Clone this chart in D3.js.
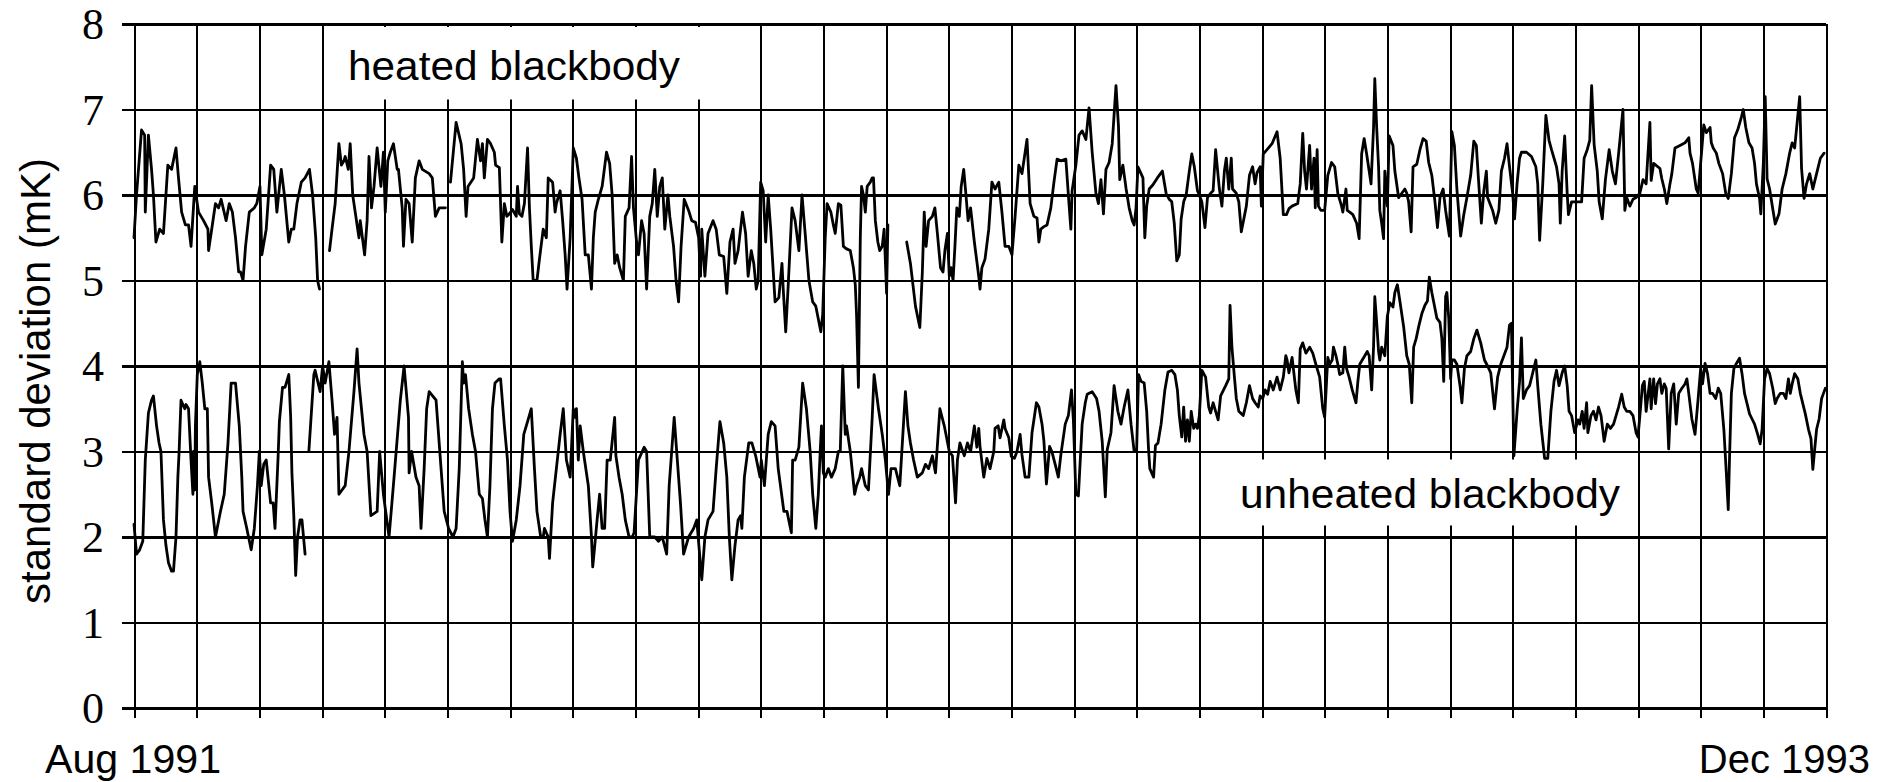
<!DOCTYPE html>
<html>
<head>
<meta charset="utf-8">
<script src="https://cdn.jsdelivr.net/npm/d3@7/dist/d3.min.js"></script>
<style>
  html, body { margin: 0; padding: 0; background: #fff; }
  svg { display: block; }
</style>
</head>
<body>
<svg id="chart" width="1880" height="782"></svg>
<script>
//#region DATA
// x = months since Aug 1991 (one grid line per month), y = standard deviation in mK
var monthTicks = d3.range(0, 28);
var yTicks = [0, 1, 2, 3, 4, 5, 6, 7, 8];
var xLabels = ["Aug 1991", "Dec 1993"];
var seriesNames = ["heated blackbody", "unheated blackbody"];
var yTitle = "standard deviation (mK)";

// null = gap in the record
var heated = [
[0.00,5.5],[0.04,6.0],[0.12,6.76],[0.17,6.7],[0.18,5.8],[0.23,6.7],[0.28,6.3],[0.31,6.0],[0.35,5.45],[0.41,5.6],
[0.47,5.55],[0.54,6.35],[0.60,6.3],[0.67,6.55],[0.71,6.2],[0.76,5.8],[0.82,5.65],[0.87,5.65],[0.91,5.4],[0.97,6.1],
[1.03,5.8],[1.11,5.7],[1.18,5.6],[1.19,5.35],[1.25,5.65],[1.30,5.9],[1.35,5.85],[1.39,5.95],[1.47,5.7],[1.52,5.9],
[1.57,5.8],[1.62,5.5],[1.67,5.1],[1.70,5.1],[1.74,5.0],[1.78,5.4],[1.84,5.8],[1.92,5.85],[1.96,5.9],[2.01,6.1],
[2.04,5.3],[2.11,5.6],[2.18,6.35],[2.23,6.3],[2.28,5.8],[2.35,6.3],[2.40,6.0],[2.47,5.45],[2.51,5.6],[2.55,5.6],
[2.60,5.9],[2.67,6.15],[2.73,6.2],[2.80,6.3],[2.85,6.0],[2.90,5.5],[2.93,5.0],[2.96,4.9],[3.04,null],[3.12,5.35],
[3.16,5.6],[3.21,5.9],[3.27,6.6],[3.31,6.35],[3.35,6.4],[3.37,6.45],[3.42,6.3],[3.45,6.6],[3.49,6.0],[3.53,5.8],
[3.59,5.5],[3.61,5.7],[3.68,5.3],[3.72,5.7],[3.75,6.45],[3.79,5.85],[3.83,6.1],[3.88,6.55],[3.94,6.1],[3.98,6.5],
[4.01,5.8],[4.05,6.4],[4.09,6.5],[4.14,6.6],[4.20,6.3],[4.22,6.3],[4.28,5.85],[4.30,5.4],[4.34,5.95],[4.39,5.9],
[4.44,5.45],[4.49,6.2],[4.55,6.4],[4.60,6.3],[4.71,6.25],[4.76,6.2],[4.81,5.75],[4.87,5.85],[4.97,5.85],[5.01,null],
[5.05,6.15],[5.14,6.85],[5.22,6.6],[5.26,6.3],[5.30,5.75],[5.33,6.1],[5.42,6.2],[5.48,6.65],[5.53,6.4],[5.56,6.6],
[5.59,6.2],[5.64,6.65],[5.69,6.6],[5.75,6.5],[5.77,6.35],[5.83,6.32],[5.87,5.45],[5.91,5.9],[5.95,5.75],[5.99,5.78],
[6.04,5.83],[6.10,5.75],[6.12,6.1],[6.15,5.78],[6.19,5.75],[6.23,5.9],[6.28,6.55],[6.31,5.85],[6.34,5.4],[6.37,5.0],
[6.43,5.0],[6.47,5.25],[6.53,5.6],[6.58,5.5],[6.61,6.2],[6.68,6.15],[6.72,5.8],[6.74,5.9],[6.80,6.05],[6.84,5.7],
[6.88,5.3],[6.91,4.9],[6.96,5.5],[7.01,6.55],[7.06,6.43],[7.10,6.2],[7.15,5.95],[7.20,5.3],[7.25,5.3],[7.30,4.9],
[7.33,5.5],[7.36,5.8],[7.41,5.95],[7.47,6.1],[7.54,6.5],[7.59,6.37],[7.63,6.0],[7.67,5.2],[7.71,5.3],[7.75,5.15],
[7.81,5.0],[7.84,5.75],[7.90,5.85],[7.94,6.45],[7.97,5.85],[8.02,5.45],[8.05,5.3],[8.10,5.7],[8.14,5.55],[8.18,4.9],
[8.23,5.75],[8.27,5.9],[8.31,6.3],[8.35,5.75],[8.39,6.1],[8.43,6.2],[8.47,5.6],[8.52,6.0],[8.55,5.75],[8.61,5.4],
[8.65,5.0],[8.69,4.75],[8.73,5.4],[8.78,5.95],[8.85,5.82],[8.90,5.7],[8.96,5.68],[9.01,5.5],[9.04,5.05],[9.06,5.6],
[9.11,5.05],[9.16,5.55],[9.24,5.7],[9.29,5.6],[9.34,5.3],[9.41,5.28],[9.46,4.85],[9.51,5.45],[9.56,5.6],[9.59,5.2],
[9.64,5.35],[9.71,5.8],[9.76,5.55],[9.80,5.05],[9.85,5.35],[9.89,5.2],[9.93,4.9],[9.96,5.0],[10.00,6.15],[10.04,6.05],
[10.08,5.45],[10.12,6.0],[10.16,5.6],[10.23,4.75],[10.29,4.8],[10.34,5.2],[10.36,4.9],[10.40,4.4],[10.44,4.95],[10.50,5.85],
[10.55,5.7],[10.61,5.35],[10.66,6.0],[10.71,5.55],[10.77,5.0],[10.83,4.75],[10.88,4.7],[10.92,4.55],[10.96,4.4],[10.99,4.6],
[11.03,5.5],[11.06,5.9],[11.12,5.8],[11.16,5.65],[11.19,5.55],[11.24,5.9],[11.28,5.88],[11.32,5.4],[11.37,5.37],[11.43,5.35],
[11.48,5.15],[11.51,4.95],[11.53,4.6],[11.56,3.75],[11.59,5.5],[11.61,6.1],[11.64,6.0],[11.67,5.8],[11.70,6.1],[11.75,6.15],
[11.78,6.2],[11.80,6.2],[11.83,5.7],[11.87,5.45],[11.90,5.35],[11.94,5.4],[11.97,5.6],[12.01,4.85],[12.03,5.65],[12.18,null],
[12.33,5.45],[12.39,5.2],[12.47,4.7],[12.54,4.45],[12.58,5.1],[12.61,5.8],[12.64,5.4],[12.68,5.7],[12.74,5.75],[12.78,5.85],
[12.82,5.55],[12.87,5.15],[12.91,5.1],[12.94,5.35],[12.98,5.55],[13.01,5.05],[13.04,5.15],[13.07,5.0],[13.10,5.4],[13.13,5.85],
[13.17,5.75],[13.20,6.1],[13.24,6.3],[13.27,6.05],[13.31,5.7],[13.35,5.85],[13.41,5.45],[13.48,5.05],[13.50,4.9],[13.53,5.15],
[13.58,5.25],[13.64,5.6],[13.69,6.15],[13.74,6.07],[13.80,6.15],[13.85,5.8],[13.90,5.4],[13.96,5.4],[14.01,5.3],[14.06,5.75],
[14.12,6.35],[14.17,6.25],[14.25,6.65],[14.30,5.9],[14.36,5.75],[14.41,5.73],[14.44,5.45],[14.47,5.6],[14.52,5.63],[14.57,5.65],
[14.63,5.85],[14.68,6.15],[14.73,6.42],[14.79,6.4],[14.87,6.42],[14.92,5.9],[14.95,5.6],[14.97,6.05],[15.03,6.35],[15.08,6.7],
[15.13,6.75],[15.19,6.65],[15.24,7.02],[15.29,6.5],[15.35,6.02],[15.39,5.9],[15.43,6.18],[15.47,5.78],[15.51,6.3],[15.56,6.38],
[15.61,6.6],[15.67,7.28],[15.71,6.8],[15.73,6.18],[15.78,6.35],[15.83,6.08],[15.88,5.85],[15.93,5.7],[15.96,5.65],[15.99,5.85],
[16.02,6.33],[16.07,6.25],[16.10,6.2],[16.13,5.5],[16.16,5.87],[16.20,6.07],[16.26,6.12],[16.33,6.2],[16.41,6.28],[16.47,6.02],
[16.52,5.95],[16.56,5.92],[16.60,5.67],[16.64,5.23],[16.68,5.3],[16.71,5.72],[16.75,5.92],[16.79,6.0],[16.84,6.28],[16.88,6.48],
[16.92,6.33],[16.97,6.05],[17.00,6.0],[17.04,5.92],[17.09,5.62],[17.13,5.97],[17.18,6.02],[17.22,6.05],[17.26,6.53],[17.32,6.07],
[17.36,5.87],[17.40,6.28],[17.43,6.43],[17.47,6.07],[17.51,6.43],[17.53,6.07],[17.59,6.02],[17.63,5.92],[17.67,5.57],[17.71,5.72],
[17.75,5.87],[17.80,6.23],[17.85,6.33],[17.89,6.13],[17.92,6.26],[17.97,6.33],[17.99,5.87],[18.02,6.48],[18.08,6.53],[18.16,6.6],
[18.24,6.74],[18.29,6.43],[18.34,5.77],[18.39,5.77],[18.43,5.84],[18.48,5.87],[18.57,5.9],[18.61,6.13],[18.65,6.72],[18.68,6.28],
[18.71,6.07],[18.76,6.58],[18.79,6.07],[18.83,6.43],[18.85,5.85],[18.88,6.53],[18.90,5.87],[18.94,5.82],[19.00,5.82],[19.05,6.23],
[19.11,6.38],[19.16,6.33],[19.21,6.02],[19.27,5.87],[19.29,5.8],[19.34,6.07],[19.36,5.82],[19.40,5.8],[19.45,5.77],[19.51,5.67],
[19.55,5.49],[19.59,6.48],[19.63,6.66],[19.67,6.48],[19.71,6.28],[19.74,6.13],[19.78,6.79],[19.80,7.36],[19.83,6.79],[19.86,6.33],
[19.88,5.82],[19.91,5.67],[19.94,5.49],[19.96,6.28],[20.00,5.87],[20.03,6.69],[20.09,6.58],[20.12,6.28],[20.18,5.97],[20.21,6.0],
[20.28,6.07],[20.31,6.02],[20.34,5.92],[20.38,5.57],[20.41,6.33],[20.47,6.36],[20.52,6.53],[20.57,6.66],[20.62,6.63],[20.66,6.38],
[20.71,6.23],[20.76,5.92],[20.80,5.62],[20.84,5.97],[20.89,6.07],[20.93,5.82],[20.95,5.72],[20.99,5.52],[21.03,6.74],[21.07,6.58],
[21.11,6.07],[21.17,5.52],[21.22,5.77],[21.27,5.97],[21.33,6.23],[21.38,6.63],[21.42,6.58],[21.46,6.12],[21.50,5.67],[21.54,6.05],
[21.58,6.28],[21.60,5.97],[21.68,5.82],[21.73,5.67],[21.78,5.82],[21.82,6.28],[21.87,6.43],[21.91,6.6],[21.95,6.33],[22.00,6.02],
[22.03,5.72],[22.07,6.13],[22.11,6.43],[22.14,6.5],[22.22,6.5],[22.30,6.45],[22.37,6.33],[22.40,6.13],[22.43,5.47],[22.48,6.13],
[22.53,6.93],[22.58,6.64],[22.62,6.53],[22.66,6.43],[22.70,6.33],[22.74,6.13],[22.76,5.67],[22.79,6.28],[22.83,6.69],[22.87,6.02],
[22.89,5.77],[22.94,5.92],[22.99,5.92],[23.10,5.92],[23.14,6.43],[23.19,6.53],[23.23,6.64],[23.26,7.28],[23.30,6.59],[23.35,6.28],
[23.38,5.92],[23.43,5.72],[23.48,6.18],[23.54,6.53],[23.59,6.28],[23.64,6.13],[23.69,6.48],[23.76,7.0],[23.79,5.82],[23.82,5.97],
[23.87,5.87],[23.92,5.95],[23.97,5.97],[24.03,6.02],[24.08,6.18],[24.13,6.13],[24.19,6.85],[24.21,6.17],[24.25,6.37],[24.35,6.31],
[24.38,6.19],[24.42,6.07],[24.46,5.9],[24.51,6.13],[24.54,6.25],[24.59,6.55],[24.67,6.58],[24.75,6.61],[24.81,6.67],[24.83,6.49],
[24.87,6.37],[24.93,6.07],[24.96,6.02],[25.02,6.55],[25.05,6.82],[25.09,6.73],[25.15,6.79],[25.17,6.61],[25.20,6.55],[25.25,6.49],
[25.29,6.37],[25.35,6.25],[25.40,6.02],[25.44,5.96],[25.49,6.25],[25.54,6.67],[25.59,6.76],[25.65,6.91],[25.68,7.0],[25.72,6.79],
[25.77,6.61],[25.82,6.55],[25.86,6.37],[25.89,6.13],[25.94,5.96],[25.96,5.78],[26.00,6.37],[26.03,7.15],[26.06,6.19],[26.10,6.07],
[26.15,5.84],[26.19,5.66],[26.25,5.78],[26.30,6.07],[26.36,6.25],[26.42,6.49],[26.46,6.61],[26.50,6.55],[26.54,6.85],[26.58,7.15],
[26.61,6.31],[26.65,5.96],[26.69,6.13],[26.74,6.25],[26.79,6.07],[26.85,6.25],[26.91,6.43],[26.97,6.49]
];

var unheated = [
[0.00,2.15],[0.04,1.8],[0.09,1.85],[0.14,1.95],[0.18,2.9],[0.23,3.45],[0.28,3.6],[0.31,3.65],[0.36,3.3],[0.40,3.1],
[0.43,3.0],[0.47,2.2],[0.51,1.9],[0.55,1.7],[0.60,1.6],[0.63,1.6],[0.67,2.0],[0.70,2.7],[0.72,3.0],[0.75,3.6],
[0.81,3.5],[0.83,3.55],[0.87,3.5],[0.91,2.9],[0.94,2.5],[0.95,3.0],[0.97,2.55],[0.98,3.3],[1.01,3.9],[1.05,4.05],
[1.09,3.8],[1.13,3.5],[1.17,3.5],[1.19,2.7],[1.24,2.4],[1.30,2.0],[1.38,2.3],[1.44,2.5],[1.50,3.1],[1.55,3.8],
[1.62,3.8],[1.68,3.3],[1.72,2.7],[1.74,2.3],[1.80,2.1],[1.87,1.85],[1.92,2.1],[1.97,2.6],[2.00,3.0],[2.03,2.6],
[2.07,2.85],[2.11,2.9],[2.18,2.4],[2.22,2.4],[2.25,2.1],[2.30,2.95],[2.32,3.35],[2.37,3.75],[2.41,3.75],[2.47,3.9],
[2.50,3.4],[2.52,2.75],[2.55,2.25],[2.58,1.55],[2.61,2.0],[2.65,2.2],[2.68,2.2],[2.73,1.8],[2.76,null],[2.79,3.0],
[2.87,3.9],[2.89,3.95],[2.97,3.7],[3.01,4.0],[3.05,3.8],[3.11,4.05],[3.16,3.6],[3.20,3.2],[3.24,3.4],[3.27,2.5],
[3.32,2.55],[3.37,2.6],[3.43,3.0],[3.51,3.7],[3.56,4.2],[3.59,3.8],[3.67,3.2],[3.72,3.0],[3.78,2.25],[3.88,2.3],
[3.92,3.0],[3.98,2.5],[4.07,2.0],[4.15,2.7],[4.25,3.6],[4.31,4.0],[4.38,3.4],[4.39,2.75],[4.43,3.0],[4.50,2.7],
[4.55,2.6],[4.58,2.1],[4.63,2.8],[4.67,3.5],[4.71,3.7],[4.82,3.6],[4.90,2.8],[4.95,2.3],[5.02,2.1],[5.09,2.0],
[5.14,2.1],[5.19,2.8],[5.24,4.05],[5.26,3.8],[5.29,3.9],[5.34,3.5],[5.40,3.2],[5.45,3.0],[5.51,2.5],[5.56,2.45],
[5.60,2.2],[5.64,2.0],[5.68,2.6],[5.72,3.5],[5.76,3.8],[5.83,3.85],[5.85,3.85],[5.91,3.3],[5.96,2.9],[6.00,2.3],
[6.04,1.95],[6.10,2.2],[6.16,2.6],[6.22,3.2],[6.26,3.3],[6.28,3.35],[6.34,3.5],[6.39,2.8],[6.43,2.3],[6.49,2.0],
[6.53,2.0],[6.55,2.1],[6.61,2.0],[6.63,1.75],[6.68,2.4],[6.74,2.8],[6.80,3.2],[6.85,3.5],[6.90,2.9],[6.96,2.7],
[7.01,3.5],[7.04,3.4],[7.06,3.5],[7.09,2.9],[7.12,3.3],[7.17,3.0],[7.25,2.6],[7.30,2.0],[7.32,1.65],[7.34,1.8],
[7.39,2.2],[7.43,2.5],[7.47,2.1],[7.51,2.1],[7.55,2.9],[7.60,2.9],[7.67,3.4],[7.69,2.95],[7.74,2.7],[7.79,2.5],
[7.84,2.2],[7.90,2.0],[7.95,2.0],[7.98,2.05],[8.05,2.9],[8.14,3.05],[8.18,3.0],[8.23,2.0],[8.31,2.0],[8.37,1.95],
[8.43,2.0],[8.50,1.8],[8.54,2.6],[8.58,3.0],[8.62,3.4],[8.72,2.4],[8.77,1.8],[8.85,2.0],[8.93,2.1],[8.98,2.2],
[9.06,1.5],[9.11,2.0],[9.16,2.2],[9.24,2.3],[9.29,2.8],[9.35,3.35],[9.41,3.1],[9.46,2.7],[9.50,2.0],[9.54,1.5],
[9.59,1.9],[9.64,2.2],[9.68,2.25],[9.70,2.1],[9.74,2.7],[9.81,3.1],[9.86,3.1],[9.92,2.95],[9.99,2.7],[10.01,2.9],
[10.06,2.6],[10.12,3.2],[10.17,3.35],[10.23,3.3],[10.28,2.8],[10.37,2.3],[10.42,2.3],[10.49,2.05],[10.51,2.9],[10.55,2.9],
[10.61,3.05],[10.67,3.8],[10.73,3.5],[10.79,3.0],[10.83,2.5],[10.88,2.1],[10.92,2.5],[10.95,3.0],[10.97,3.3],[11.00,2.75],
[11.03,2.7],[11.08,2.8],[11.13,2.7],[11.19,2.8],[11.24,3.0],[11.27,3.0],[11.31,4.0],[11.35,3.2],[11.37,3.3],[11.43,3.0],
[11.50,2.5],[11.53,2.6],[11.58,2.7],[11.61,2.8],[11.67,2.6],[11.72,2.55],[11.78,3.4],[11.81,3.9],[11.88,3.5],[11.94,3.2],
[11.99,2.9],[12.04,2.5],[12.08,2.8],[12.15,2.8],[12.22,2.6],[12.31,3.7],[12.35,3.3],[12.39,3.1],[12.44,2.9],[12.50,2.7],
[12.58,2.75],[12.63,2.85],[12.68,2.8],[12.74,2.95],[12.79,2.75],[12.86,3.5],[12.93,3.3],[13.01,3.0],[13.06,2.95],[13.11,2.4],
[13.14,2.9],[13.18,3.1],[13.25,2.95],[13.30,3.1],[13.35,3.0],[13.41,3.3],[13.45,3.05],[13.48,3.27],[13.50,3.06],[13.56,2.7],
[13.61,2.92],[13.66,2.8],[13.72,3.0],[13.74,3.27],[13.79,3.3],[13.82,3.16],[13.88,3.37],[13.90,3.27],[13.96,3.16],[14.00,2.94],
[14.05,2.92],[14.09,3.0],[14.14,3.2],[14.17,2.96],[14.22,2.7],[14.28,2.7],[14.33,3.22],[14.40,3.57],[14.44,3.52],[14.49,3.32],
[14.52,3.12],[14.56,2.62],[14.61,3.06],[14.65,2.99],[14.71,2.82],[14.75,2.7],[14.79,2.96],[14.86,3.32],[14.91,3.42],[14.96,3.72],
[14.99,3.37],[15.03,2.5],[15.07,2.48],[15.13,3.32],[15.18,3.57],[15.21,3.67],[15.29,3.7],[15.36,3.62],[15.40,3.47],[15.45,3.12],
[15.50,2.47],[15.53,3.02],[15.59,3.22],[15.64,3.77],[15.70,3.47],[15.75,3.32],[15.80,3.52],[15.86,3.72],[15.91,3.32],[15.96,3.0],
[16.00,3.02],[16.03,3.9],[16.07,3.82],[16.12,3.8],[16.16,3.47],[16.19,3.02],[16.21,2.8],[16.27,2.7],[16.30,3.07],[16.34,3.1],
[16.39,3.32],[16.45,3.72],[16.50,3.93],[16.56,3.95],[16.61,3.9],[16.65,3.72],[16.68,3.42],[16.72,3.17],[16.75,3.52],[16.78,3.12],
[16.81,3.37],[16.84,3.12],[16.87,3.47],[16.91,3.27],[16.94,3.32],[16.97,3.27],[17.00,3.42],[17.04,3.95],[17.10,3.87],[17.15,3.52],
[17.18,3.45],[17.22,3.57],[17.26,3.47],[17.30,3.37],[17.34,3.65],[17.42,3.77],[17.47,3.85],[17.49,4.71],[17.52,4.22],[17.56,3.87],
[17.59,3.62],[17.63,3.47],[17.70,3.42],[17.75,3.57],[17.80,3.77],[17.85,3.62],[17.89,3.57],[17.94,3.52],[17.97,3.65],[18.01,3.62],
[18.05,3.72],[18.09,3.67],[18.13,3.82],[18.18,3.72],[18.24,3.87],[18.29,3.72],[18.34,3.87],[18.38,4.12],[18.40,4.07],[18.43,3.92],
[18.48,4.1],[18.54,3.72],[18.58,3.57],[18.61,4.2],[18.65,4.27],[18.70,4.15],[18.76,4.22],[18.81,4.15],[18.86,4.02],[18.92,3.87],
[18.97,3.5],[19.00,3.4],[19.03,3.82],[19.05,4.1],[19.08,4.02],[19.12,4.07],[19.14,4.22],[19.18,4.12],[19.21,4.02],[19.24,3.9],
[19.29,3.92],[19.32,4.22],[19.35,3.97],[19.39,3.87],[19.44,3.72],[19.50,3.57],[19.53,3.82],[19.56,4.02],[19.60,4.07],[19.64,4.12],
[19.68,4.17],[19.71,4.12],[19.75,3.72],[19.78,4.22],[19.80,4.81],[19.83,4.51],[19.86,4.17],[19.88,4.07],[19.91,4.22],[19.96,4.12],
[20.00,4.58],[20.04,4.74],[20.09,4.69],[20.12,4.86],[20.16,4.95],[20.20,4.76],[20.26,4.46],[20.31,4.12],[20.35,4.02],[20.39,3.57],
[20.42,4.22],[20.46,4.32],[20.50,4.46],[20.55,4.61],[20.60,4.71],[20.64,4.76],[20.67,5.04],[20.71,4.86],[20.75,4.71],[20.79,4.56],
[20.84,4.51],[20.87,4.32],[20.90,3.82],[20.93,4.81],[20.95,4.86],[20.98,4.56],[21.01,3.85],[21.03,4.07],[21.07,4.07],[21.11,4.02],
[21.16,3.77],[21.19,3.57],[21.23,3.97],[21.27,4.12],[21.33,4.17],[21.38,4.32],[21.43,4.42],[21.49,4.27],[21.55,4.07],[21.60,4.0],
[21.65,3.92],[21.71,3.5],[21.76,3.87],[21.81,4.02],[21.86,4.12],[21.91,4.22],[21.95,4.48],[21.98,4.5],[22.02,2.95],[22.07,3.47],
[22.11,3.82],[22.14,4.33],[22.17,3.62],[22.22,3.72],[22.27,3.77],[22.32,3.92],[22.37,4.07],[22.40,3.77],[22.45,3.32],[22.51,2.92],
[22.56,2.92],[22.61,3.47],[22.66,3.82],[22.70,3.95],[22.74,3.77],[22.79,3.92],[22.83,4.0],[22.87,3.77],[22.90,3.47],[22.94,3.42],
[22.99,3.22],[23.04,3.37],[23.07,3.32],[23.11,3.47],[23.14,3.27],[23.18,3.57],[23.20,3.22],[23.25,3.42],[23.29,3.47],[23.33,3.37],
[23.37,3.52],[23.41,3.42],[23.46,3.12],[23.51,3.32],[23.56,3.27],[23.61,3.32],[23.65,3.42],[23.69,3.52],[23.74,3.67],[23.78,3.52],
[23.82,3.47],[23.87,3.47],[23.92,3.42],[23.97,3.22],[24.00,3.17],[24.03,3.42],[24.07,3.77],[24.10,3.82],[24.13,3.47],[24.19,3.85],
[24.21,3.5],[24.25,3.85],[24.28,3.56],[24.31,3.79],[24.35,3.85],[24.38,3.68],[24.42,3.79],[24.45,3.74],[24.49,3.03],[24.53,3.68],
[24.57,3.79],[24.61,3.32],[24.65,3.68],[24.70,3.74],[24.75,3.79],[24.78,3.85],[24.81,3.68],[24.86,3.38],[24.91,3.2],[24.96,3.62],
[25.00,3.97],[25.03,3.79],[25.07,4.03],[25.11,3.91],[25.15,3.68],[25.19,3.68],[25.24,3.62],[25.28,3.74],[25.32,3.68],[25.37,3.26],
[25.41,2.74],[25.44,2.32],[25.46,2.91],[25.49,3.68],[25.53,3.97],[25.57,4.03],[25.62,4.09],[25.66,3.91],[25.70,3.68],[25.74,3.56],
[25.78,3.44],[25.82,3.38],[25.86,3.32],[25.91,3.2],[25.95,3.09],[25.98,3.26],[26.02,3.85],[26.06,3.97],[26.10,3.91],[26.15,3.74],
[26.19,3.56],[26.22,3.62],[26.27,3.68],[26.32,3.68],[26.36,3.62],[26.40,3.85],[26.43,3.68],[26.46,3.79],[26.50,3.91],[26.55,3.85],
[26.59,3.68],[26.63,3.56],[26.67,3.44],[26.72,3.26],[26.76,3.15],[26.79,2.79],[26.82,3.03],[26.85,3.26],[26.89,3.38],[26.93,3.62],
[26.96,3.68],[26.99,3.74]
];

//#region SETUP
var svg = d3.select("#chart");
var W = 1880, H = 782;
var plotLeft = 134, plotRight = 1826, plotTop = 24, plotBottom = 708;

var x = d3.scaleLinear().domain([0, 27]).range([plotLeft, plotRight]);
var y = d3.scaleLinear().domain([0, 8]).range([plotBottom, plotTop]);

svg.append("rect").attr("width", W).attr("height", H).attr("fill", "#fff");

//#region GRID
// vertical month lines, poking a little below the zero line
var xGrid = svg.append("g")
    .attr("transform", `translate(0,${plotBottom + 10})`)
    .call(d3.axisBottom(x).tickValues(monthTicks).tickSize(-(plotBottom + 10 - plotTop)).tickFormat(""));
xGrid.select(".domain").remove();
xGrid.selectAll(".tick line")
    .style("stroke", "#000")
    .style("stroke-width", "2px")
    .style("shape-rendering", "crispEdges");

// the series names sit on white boxes that blank out the month lines behind them
svg.append("rect").attr("x", 340).attr("y", y(8) + 3).attr("width", 382).attr("height", y(7) - y(8) - 13).attr("fill", "#fff");
svg.append("rect").attr("x", 1226).attr("y", y(3) + 8).attr("width", 402).attr("height", 66).attr("fill", "#fff");

// horizontal lines + serif tick numbers, starting a bit left of the axis
var yGrid = svg.append("g")
    .attr("transform", `translate(${plotLeft - 12},0)`)
    .call(d3.axisLeft(y).tickValues(yTicks).tickSize(-(plotRight - plotLeft + 12)).tickPadding(18).tickFormat(d3.format("d")));
yGrid.select(".domain").remove();
yGrid.selectAll(".tick line")
    .style("stroke", "#000")
    .style("stroke-width", "2.2px")
    .style("shape-rendering", "crispEdges");
yGrid.selectAll(".tick text")
    .attr("dy", "0.34em")
    .style("font-family", "'Liberation Serif', 'Times New Roman', serif")
    .style("font-size", "44px")
    .style("fill", "#000");

//#region SERIES
var line = d3.line()
    .defined(function(d){ return d[1] !== null; })
    .x(function(d){ return x(d[0]); })
    .y(function(d){ return y(d[1]); });

[heated, unheated].forEach(function(s){
    svg.append("path")
        .datum(s)
        .attr("d", line)
        .style("fill", "none")
        .style("stroke", "#000")
        .style("stroke-width", "2.8px")
        .style("stroke-linejoin", "round")
        .style("stroke-linecap", "round");
});

//#region TEXT
var sans = "'Liberation Sans', Arial, Helvetica, sans-serif";

svg.append("text")
    .attr("x", 348).attr("y", 80)
    .attr("textLength", 332).attr("lengthAdjust", "spacingAndGlyphs")
    .style("font-family", sans).style("font-size", "41px").style("fill", "#000")
    .text(seriesNames[0]);

svg.append("text")
    .attr("x", 1240).attr("y", 508)
    .attr("textLength", 380).attr("lengthAdjust", "spacingAndGlyphs")
    .style("font-family", sans).style("font-size", "41px").style("fill", "#000")
    .text(seriesNames[1]);

svg.append("text")
    .attr("transform", "translate(50,381) rotate(-90)")
    .attr("text-anchor", "middle")
    .style("font-family", sans).style("font-size", "42px").style("fill", "#000")
    .text(yTitle);

svg.append("text")
    .attr("x", 45).attr("y", 773)
    .attr("textLength", 176).attr("lengthAdjust", "spacingAndGlyphs")
    .style("font-family", sans).style("font-size", "40px").style("fill", "#000")
    .text(xLabels[0]);

svg.append("text")
    .attr("x", 1870).attr("y", 773)
    .attr("text-anchor", "end")
    .style("font-family", sans).style("font-size", "40px").style("fill", "#000")
    .text(xLabels[1]);
</script>
</body>
</html>
